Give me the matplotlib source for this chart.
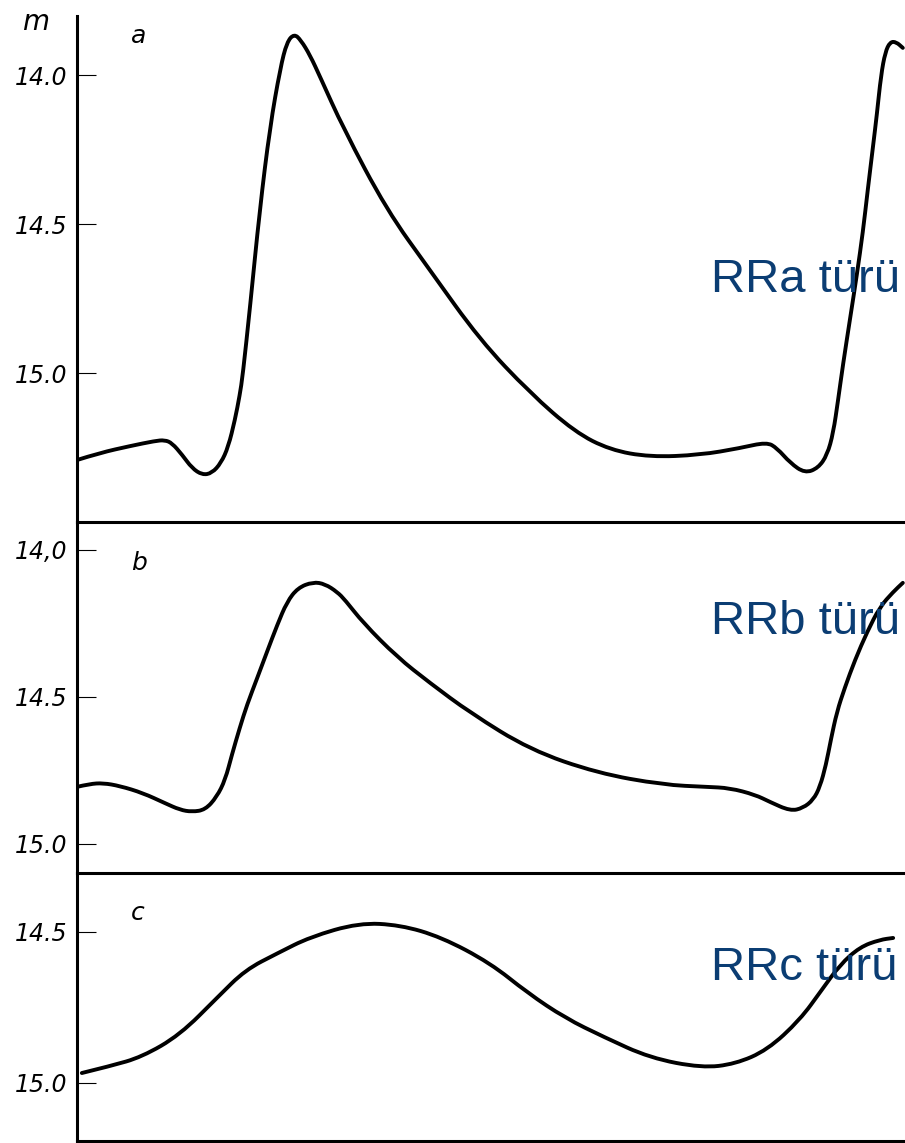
import matplotlib
matplotlib.use('Agg')
import matplotlib.pyplot as plt
from matplotlib.path import Path
from matplotlib.patches import PathPatch

# fase (eje x comun) y magnitud de cada curva de luz
fase_a = [0.000, 0.038, 0.088, 0.129, 0.145, 0.157, 0.174, 0.190, 0.207, 0.223,
          0.238, 0.250, 0.261, 0.269, 0.274, 0.286, 0.302, 0.319, 0.336, 0.347,
          0.359, 0.370, 0.385, 0.402, 0.440, 0.512, 0.583, 0.666, 0.749, 0.823,
          0.881, 0.947, 1.030, 1.096, 1.140, 1.157, 1.179, 1.203, 1.225, 1.240,
          1.250, 1.258, 1.266, 1.278, 1.289, 1.299, 1.307, 1.316, 1.322, 1.329,
          1.336, 1.344, 1.354, 1.365]
mag_a = [15.292, 15.268, 15.245, 15.228, 15.225, 15.235, 15.275, 15.319, 15.342, 15.336,
         15.302, 15.248, 15.158, 15.074, 15.007, 14.779, 14.453, 14.174, 13.977, 13.889,
         13.862, 13.883, 13.933, 14.007, 14.178, 14.453, 14.654, 14.889, 15.067, 15.198,
         15.258, 15.282, 15.275, 15.252, 15.232, 15.252, 15.302, 15.336, 15.319, 15.275,
         15.201, 15.091, 14.973, 14.815, 14.671, 14.527, 14.386, 14.235, 14.134, 14.000,
         13.923, 13.889, 13.889, 13.909]

fase_b = [0.000, 0.021, 0.043, 0.071, 0.109, 0.145, 0.170, 0.190, 0.212, 0.231,
          0.245, 0.256, 0.269, 0.281, 0.298, 0.314, 0.331, 0.347, 0.365, 0.390,
          0.410, 0.430, 0.443, 0.473, 0.529, 0.583, 0.650, 0.749, 0.860, 0.969,
          1.041, 1.079, 1.121, 1.145, 1.179, 1.200, 1.217, 1.228, 1.238, 1.246,
          1.256, 1.269, 1.286, 1.306, 1.327, 1.349, 1.365]
mag_b = [14.806, 14.796, 14.793, 14.803, 14.827, 14.861, 14.884, 14.891, 14.884, 14.840,
         14.782, 14.697, 14.605, 14.527, 14.435, 14.347, 14.255, 14.177, 14.129, 14.109,
         14.116, 14.143, 14.170, 14.248, 14.364, 14.452, 14.554, 14.680, 14.759, 14.799,
         14.806, 14.810, 14.833, 14.857, 14.888, 14.878, 14.850, 14.806, 14.731, 14.646,
         14.551, 14.469, 14.374, 14.279, 14.194, 14.143, 14.112]

fase_c = [0.008, 0.055, 0.107, 0.170, 0.233, 0.278, 0.332, 0.385, 0.466, 0.534,
          0.602, 0.683, 0.745, 0.807, 0.871, 0.947, 1.033, 1.088, 1.141, 1.195,
          1.231, 1.261, 1.294, 1.327, 1.349]
mag_c = [14.967, 14.944, 14.914, 14.841, 14.715, 14.626, 14.570, 14.517, 14.470, 14.477,
         14.517, 14.603, 14.702, 14.785, 14.848, 14.917, 14.950, 14.937, 14.891, 14.791,
         14.692, 14.609, 14.550, 14.526, 14.520]

ticks_a = [14.0, 14.5, 15.0]
etiq_a = ['14.0', '14.5', '15.0']
ticks_b = [14.0, 14.5, 15.0]
etiq_b = ['14,0', '14.5', '15.0']
ticks_c = [14.5, 15.0]
etiq_c = ['14.5', '15.0']

letras = ['a', 'b', 'c']
tipos = ['RRa türü', 'RRb türü', 'RRc türü']

W, H = 905, 1143
fig = plt.figure(figsize=(W / 100, H / 100), dpi=100)


def px(x, y):
    # pixeles de la imagen -> fraccion de figura
    return x / W, 1 - y / H


def curva_suave(ax, xs, ys):
    # trazo suave: los puntos leidos hacen de puntos de control (Bezier cuadratica)
    pts = list(zip(xs, ys))
    verts = [pts[0]]
    codes = [Path.MOVETO]
    for i in range(1, len(pts) - 1):
        medio = ((pts[i][0] + pts[i + 1][0]) / 2, (pts[i][1] + pts[i + 1][1]) / 2)
        verts += [pts[i], medio]
        codes += [Path.CURVE3, Path.CURVE3]
    verts.append(pts[-1])
    codes.append(Path.LINETO)
    ax.add_patch(PathPatch(Path(verts, codes), facecolor='none', edgecolor='black',
                           linewidth=2.8, joinstyle='round', capstyle='round'))


izq = 77 / W
ancho = (W - 77) / W

# (arriba, abajo) de cada panel en pixeles y limites de magnitud
paneles = [
    (16, 522, (15.50, 13.802), fase_a, mag_a, ticks_a, etiq_a),
    (522, 873, (15.099, 13.905), fase_b, mag_b, ticks_b, etiq_b),
    (873, 1141, (15.192, 14.305), fase_c, mag_c, ticks_c, etiq_c),
]

for arriba, abajo, ylim, fase, mag, ticks, etiq in paneles:
    ax = fig.add_axes([izq, 1 - abajo / H, ancho, (abajo - arriba) / H])
    ax.patch.set_visible(False)
    curva_suave(ax, fase, mag)
    ax.set_xlim(0, 1.3686)
    ax.set_ylim(*ylim)
    ax.set_yticks(ticks)
    ax.set_yticklabels(etiq, fontsize=17, fontstyle='italic')
    ax.set_xticks([])
    ax.tick_params(axis='y', direction='in', length=14, width=0.8, pad=7)
    for lado in ['top', 'right']:
        ax.spines[lado].set_visible(False)
    ax.spines['left'].set_linewidth(2.2)
    ax.spines['bottom'].set_linewidth(2.2)

# textos a mano
fig.text(*px(22, 22), 'm', fontsize=20, fontstyle='italic', va='center', ha='left')
for letra, (x, y) in zip(letras, [(131, 36), (131, 563), (131, 913)]):
    fig.text(*px(x, y), letra, fontsize=18, fontstyle='italic', va='center', ha='left')

for tipo, y in zip(tipos, [280, 622, 968]):
    fig.text(*px(711, y), tipo, fontsize=34, color='#0b3d73',
             family='Liberation Sans', va='center', ha='left')

fig.savefig('out.png', dpi=100)
